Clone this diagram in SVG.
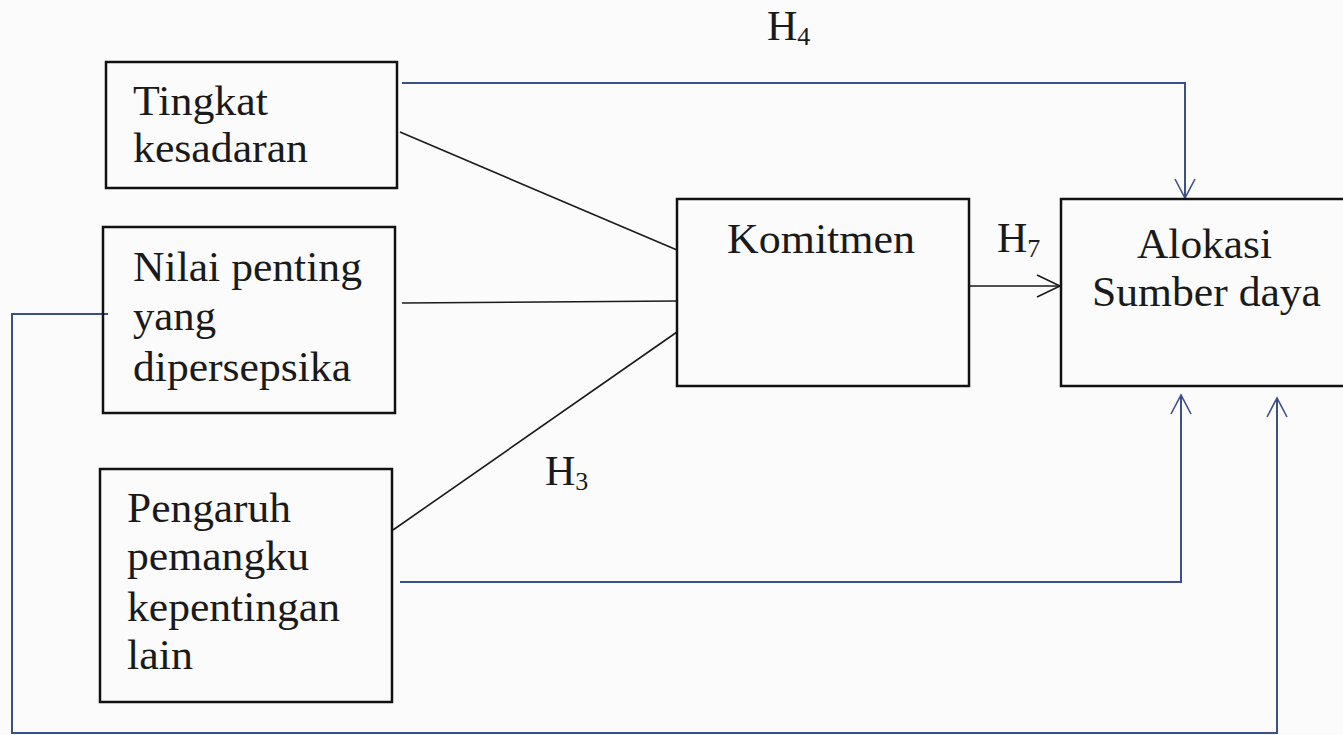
<svg xmlns="http://www.w3.org/2000/svg" width="1343" height="735" viewBox="0 0 1343 735">
<style>
.box{fill:none;stroke:#111;stroke-width:2.5}
.t{font-family:'Liberation Serif','Times New Roman',serif;font-size:42px;fill:#1a1a1a}
.sub{font-size:26px}
.k{fill:none;stroke:#1a1a1a;stroke-width:1.6}
.b{fill:none;stroke:#3b4f8c;stroke-width:2}
</style>
<defs>
<marker id="ab" markerUnits="userSpaceOnUse" markerWidth="30" markerHeight="30" viewBox="-22 -15 30 30" refX="0" refY="0" orient="auto">
<path d="M-19,-10 L0,0 L-19,10" fill="none" stroke="#3b4f8c" stroke-width="1.6"/>
</marker>
<marker id="ak" markerUnits="userSpaceOnUse" markerWidth="30" markerHeight="30" viewBox="-26 -15 30 30" refX="0" refY="0" orient="auto">
<path d="M-23,-11 L0,0 L-23,11" fill="none" stroke="#1a1a1a" stroke-width="1.6"/>
</marker>
</defs>
<rect width="1343" height="735" fill="#fbfbfb"/>
<g id="connectors">
<path class="k" d="M400,132 L677,250"/>
<path class="k" d="M402,303 L677,301"/>
<path class="k" d="M393,530 L677,332"/>
<path class="k" d="M969,286 L1060,286" marker-end="url(#ak)"/>
<path class="b" d="M402,83 H1185 V198" marker-end="url(#ab)"/>
<path class="b" d="M400,582 H1181 V395" marker-end="url(#ab)"/>
<path class="b" d="M108,314 H12 V733 H1277 V398" marker-end="url(#ab)"/>
<text class="t" x="767" y="40">H<tspan class="sub" dy="5">4</tspan></text>
<text class="t" x="545" y="485">H<tspan class="sub" dy="5">3</tspan></text>
<text class="t" x="997" y="252">H<tspan class="sub" dy="5">7</tspan></text>
</g>
<g id="tingkat">
<rect class="box" x="106" y="62" width="291" height="126"/>
<text class="t" x="133" y="115" textLength="135" lengthAdjust="spacingAndGlyphs">Tingkat</text>
<text class="t" x="133" y="162" textLength="175" lengthAdjust="spacingAndGlyphs">kesadaran</text>
</g>
<g id="nilai">
<rect class="box" x="103" y="227" width="292" height="186"/>
<text class="t" x="133" y="281" textLength="229" lengthAdjust="spacingAndGlyphs">Nilai penting</text>
<text class="t" x="133" y="330" textLength="83" lengthAdjust="spacingAndGlyphs">yang</text>
<text class="t" x="133" y="381" textLength="218" lengthAdjust="spacingAndGlyphs">dipersepsika</text>
</g>
<g id="pengaruh">
<rect class="box" x="100" y="469" width="292" height="233"/>
<text class="t" x="127" y="522" textLength="164" lengthAdjust="spacingAndGlyphs">Pengaruh</text>
<text class="t" x="127" y="570" textLength="182" lengthAdjust="spacingAndGlyphs">pemangku</text>
<text class="t" x="127" y="621" textLength="213" lengthAdjust="spacingAndGlyphs">kepentingan</text>
<text class="t" x="127" y="669" textLength="66" lengthAdjust="spacingAndGlyphs">lain</text>
</g>
<g id="komitmen">
<rect class="box" x="677" y="199" width="292" height="187"/>
<text class="t" x="727" y="253" textLength="188" lengthAdjust="spacingAndGlyphs">Komitmen</text>
</g>
<g id="alokasi">
<rect class="box" x="1061" y="199" width="300" height="187"/>
<text class="t" x="1137" y="258" textLength="135" lengthAdjust="spacingAndGlyphs">Alokasi</text>
<text class="t" x="1092" y="306" textLength="229" lengthAdjust="spacingAndGlyphs">Sumber daya</text>
</g>
</svg>
